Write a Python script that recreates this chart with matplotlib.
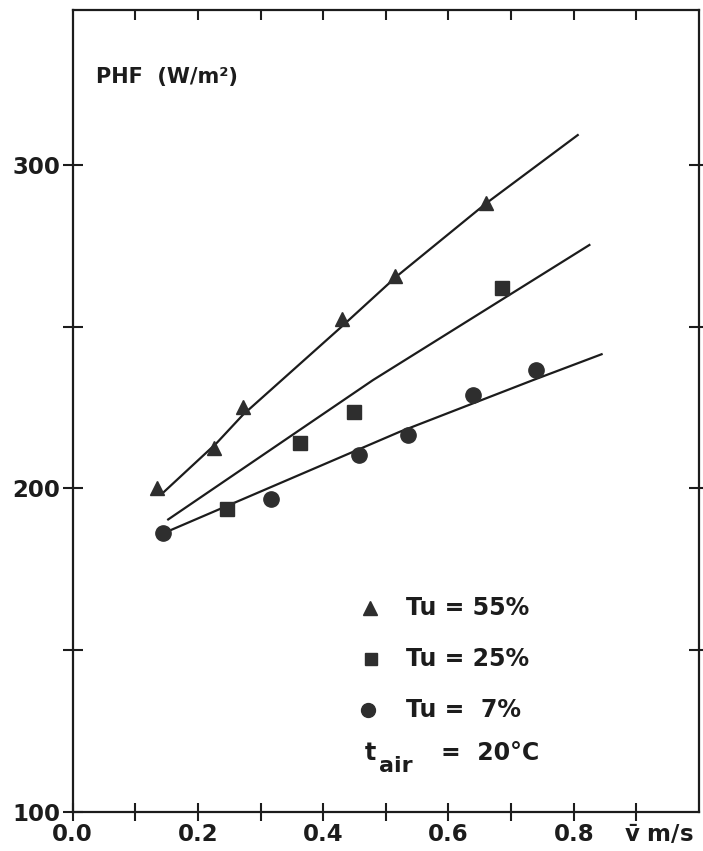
import matplotlib
matplotlib.use("Agg")
import matplotlib.pyplot as plt

# data
tri_x = [0.135, 0.225, 0.272, 0.430, 0.514, 0.660]
tri_y = [200.0, 212.4, 225.3, 252.4, 265.7, 288.2]
tri_fit_x = [0.1445, 0.2297, 0.272, 0.4263, 0.5167, 0.6603, 0.8064]
tri_fit_y = [198.7, 214.0, 222.8, 249.5, 265.5, 288.2, 309.3]

sq_x = [0.2456, 0.3625, 0.449, 0.686]
sq_y = [193.5, 213.9, 223.7, 261.9]
sq_fit_x = [0.1525, 0.4794, 0.825]
sq_fit_y = [190.4, 233.5, 275.3]

ci_x = [0.1445, 0.317, 0.4576, 0.536, 0.6385, 0.740]
ci_y = [186.1, 196.6, 210.3, 216.5, 228.9, 236.6]
ci_fit_x = [0.1445, 0.522, 0.735, 0.8445]
ci_fit_y = [186.1, 217.5, 233.5, 241.5]

xticks = [0.0, 0.1, 0.2, 0.3, 0.4, 0.5, 0.6, 0.7, 0.8, 0.9]
xticklabels = ["0.0", "", "0.2", "", "0.4", "", "0.6", "", "0.8", ""]
yticks = [100, 150, 200, 250, 300]
yticklabels = ["100", "", "200", "", "300"]

legend_labels = ["Tu = 55%", "Tu = 25%", "Tu =  7%"]

INK = "#1c1c1c"
MARK = "#2e2e2e"

plt.rcParams["font.family"] = ["DejaVu Sans"]
plt.rcParams["font.weight"] = "bold"
plt.rcParams["mathtext.fontset"] = "dejavusans"

fig = plt.figure(figsize=(7.03, 8.51), dpi=100)
ax = fig.add_axes([0.1034, 0.0462, 0.8909, 0.9421])

ax.plot(tri_fit_x, tri_fit_y, color=INK, lw=1.6)
ax.plot(sq_fit_x, sq_fit_y, color=INK, lw=1.6)
ax.plot(ci_fit_x, ci_fit_y, color=INK, lw=1.6)

ax.plot(tri_x, tri_y, ls="none", marker="^", ms=10, color=MARK)
ax.plot(sq_x, sq_y, ls="none", marker="s", ms=10, color=MARK)
ax.plot(ci_x, ci_y, ls="none", marker="o", ms=11, color=MARK)

ax.set_xlim(0, 1.0)
ax.set_ylim(100, 348)

for s in ax.spines.values():
    s.set_linewidth(1.6)
    s.set_color(INK)

ax.set_xticks(xticks)
ax.set_xticklabels(xticklabels)
ax.set_yticks(yticks)
ax.set_yticklabels(yticklabels)
ax.tick_params(axis="x", direction="inout", length=13, width=1.5,
               color=INK, labelsize=16.5, labelcolor=INK, pad=2)
ax.tick_params(axis="y", direction="inout", length=14, width=1.5,
               color=INK, labelsize=16.5, labelcolor=INK, pad=2)
for lab in ax.get_xticklabels() + ax.get_yticklabels():
    lab.set_fontweight("bold")

top = ax.secondary_xaxis("top")
top.set_xticks(xticks[1:])
top.set_xticklabels([])
top.tick_params(direction="in", length=7, width=1.5, color=INK)
top.spines["top"].set_visible(False)

right = ax.secondary_yaxis("right")
right.set_yticks(yticks[1:])
right.set_yticklabels([])
right.tick_params(direction="inout", length=14, width=1.5, color=INK)
right.spines["right"].set_visible(False)

# axis unit label in place of the 0.9 tick label
ax.annotate(r"$\bar{\mathbf{v}}$ m/s", xy=(0.881, 0),
            xycoords=("data", "axes fraction"), xytext=(0, -8),
            textcoords="offset points", ha="left", va="top",
            fontsize=16.5, fontweight="bold", color=INK)

ax.text(0.0378, 327.2, "PHF  (W/m\u00b2)", ha="left", va="center",
        fontsize=15, fontweight="bold", color=INK)

# legend drawn by hand, as in the original
ax.plot([0.474], [163.0], marker="^", ms=10, color=MARK)
ax.plot([0.476], [147.2], marker="s", ms=9, color=MARK)
ax.plot([0.472], [131.5], marker="o", ms=10, color=MARK)
for y, lab in zip([163.0, 147.2, 131.5], legend_labels):
    ax.text(0.532, y, lab, ha="left", va="center", fontsize=17,
            fontweight="bold", color=INK)

ax.text(0.466, 118.3, "t", ha="left", va="center", fontsize=17,
        fontweight="bold", color=INK)
ax.text(0.489, 114.0, "air", ha="left", va="center", fontsize=16,
        fontweight="bold", color=INK)
ax.text(0.588, 118.2, "=  20\u00b0C", ha="left", va="center", fontsize=17,
        fontweight="bold", color=INK)

fig.savefig("out.png", dpi=100)
